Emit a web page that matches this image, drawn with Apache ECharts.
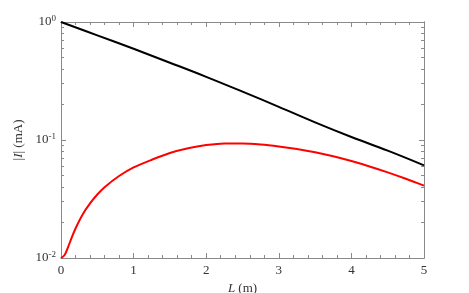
<!DOCTYPE html>
<html>
<head>
<meta charset="utf-8">
<script src="https://cdn.jsdelivr.net/npm/echarts@6/dist/echarts.min.js"></script>
<style>
  html, body { margin: 0; padding: 0; background: #fff; }
  #chart { width: 469px; height: 293px; }
</style>
</head>
<body>
<div id="chart"></div>
<script>
'use strict';

// L (m) for the black curve
var blackLengths = [0, 0.5, 1.0, 1.5, 2.0, 2.5, 3.0, 3.5, 4.0, 4.5, 5.0];
// |I| (mA), black curve
var blackCurrent = [1, 0.771, 0.593, 0.452, 0.343, 0.257, 0.191, 0.141, 0.106, 0.0813, 0.061];
// L (m) for the red curve
var redLengths = [0, 0.05, 0.1, 0.15, 0.2, 0.3, 0.4, 0.5, 0.6, 0.8, 1.0, 1.25, 1.5, 1.75, 2.0,
    2.25, 2.5, 2.75, 3.0, 3.25, 3.5, 3.75, 4.0, 4.25, 4.5, 4.75, 5.0];
// |I| (mA), red curve
var redCurrent = [0.01, 0.0106, 0.0125, 0.015, 0.0178, 0.0235, 0.029, 0.0345, 0.0398, 0.0495,
    0.0585, 0.068, 0.0775, 0.085, 0.0905, 0.0935, 0.0935, 0.0917, 0.0882, 0.0838, 0.0787, 0.0728,
    0.0663, 0.0597, 0.0532, 0.0469, 0.041];
// log axis ticks
var majorTicks = [0.01, 0.1, 1];
var minorTicks = [0.02, 0.03, 0.04, 0.05, 0.06, 0.07, 0.08, 0.09,
    0.2, 0.3, 0.4, 0.5, 0.6, 0.7, 0.8, 0.9];

function pairs(xs, ys) {
    return xs.map(function (x, i) { return [x, ys[i]]; });
}

var axisColor = '#8a8a8a';
var serif = '"Liberation Serif", "DejaVu Serif", serif';

var chart = echarts.init(document.getElementById('chart'));

function xAxisBase(pos, labels) {
    return {
        type: 'value',
        position: pos,
        min: 0,
        max: 5,
        interval: 1,
        axisLine: { show: true, onZero: false, lineStyle: { color: axisColor, width: 1 } },
        axisTick: { show: true, inside: true, length: 5, lineStyle: { color: axisColor } },
        minorTick: { show: true, splitNumber: 5, length: 3, lineStyle: { color: axisColor } },
        splitLine: { show: false },
        axisLabel: {
            show: labels,
            color: '#333',
            fontFamily: serif,
            fontSize: 13,
            margin: 6
        }
    };
}

function yAxisBase(pos, labels) {
    return {
        type: 'log',
        logBase: 10,
        position: pos,
        min: 0.01,
        max: 1,
        axisLine: { show: true, onZero: false, lineStyle: { color: axisColor, width: 1 } },
        axisTick: { show: true, inside: true, length: 5, lineStyle: { color: axisColor } },
        splitLine: { show: false },
        axisLabel: {
            show: labels,
            margin: 5,
            formatter: function (v) {
                var e = Math.round(Math.log(v) / Math.LN10);
                return '{b|10}{s|' + e + '}';
            },
            rich: {
                b: { fontFamily: serif, fontSize: 13, color: '#333', lineHeight: 16 },
                s: { fontFamily: serif, fontSize: 9, color: '#333', verticalAlign: 'top', padding: [0, 0, 7, 0] }
            }
        }
    };
}

var xMain = xAxisBase('bottom', true);
xMain.name = '{i|L} (m)';
xMain.nameLocation = 'middle';
xMain.nameGap = 22;
xMain.nameTextStyle = {
    fontFamily: serif, fontSize: 13, color: '#333',
    rich: { i: { fontFamily: serif, fontSize: 13, fontStyle: 'italic', color: '#333' } }
};

var yMain = yAxisBase('left', true);
yMain.name = '|{i|I}| (mA)';
yMain.nameLocation = 'middle';
yMain.nameGap = 25;
yMain.nameTextStyle = {
    fontFamily: serif, fontSize: 13, color: '#333',
    rich: { i: { fontFamily: serif, fontSize: 13, fontStyle: 'italic', color: '#333' } }
};

// minor ticks of the log axes
function yMinor(pos) {
    var a = yAxisBase(pos, false);
    a.axisLine = { show: pos === 'right', onZero: false, lineStyle: { color: axisColor } };
    a.axisTick = { show: true, inside: true, length: 3, customValues: minorTicks, lineStyle: { color: axisColor } };
    return a;
}

var yRight = yAxisBase('right', false);
yRight.axisTick.customValues = majorTicks;

var option = {
    animation: false,
    grid: { left: 61, right: 45, top: 22, bottom: 35, containLabel: false, outerBoundsMode: 'none' },
    xAxis: [xMain, xAxisBase('top', false)],
    yAxis: [yMain, yRight, yMinor('left'), yMinor('right')],
    series: [{
        name: 'black',
        type: 'line',
        data: pairs(blackLengths, blackCurrent),
        xAxisIndex: 0,
        yAxisIndex: 0,
        showSymbol: false,
        smooth: 0.4,
        lineStyle: { color: '#000', width: 2 },
        itemStyle: { color: '#000' }
    }, {
        name: 'red',
        type: 'line',
        data: pairs(redLengths, redCurrent),
        xAxisIndex: 0,
        yAxisIndex: 0,
        showSymbol: false,
        smooth: 0.3,
        lineStyle: { color: '#ff0000', width: 2 },
        itemStyle: { color: '#ff0000' }
    }]
};

chart.setOption(option);
</script>
</body>
</html>
